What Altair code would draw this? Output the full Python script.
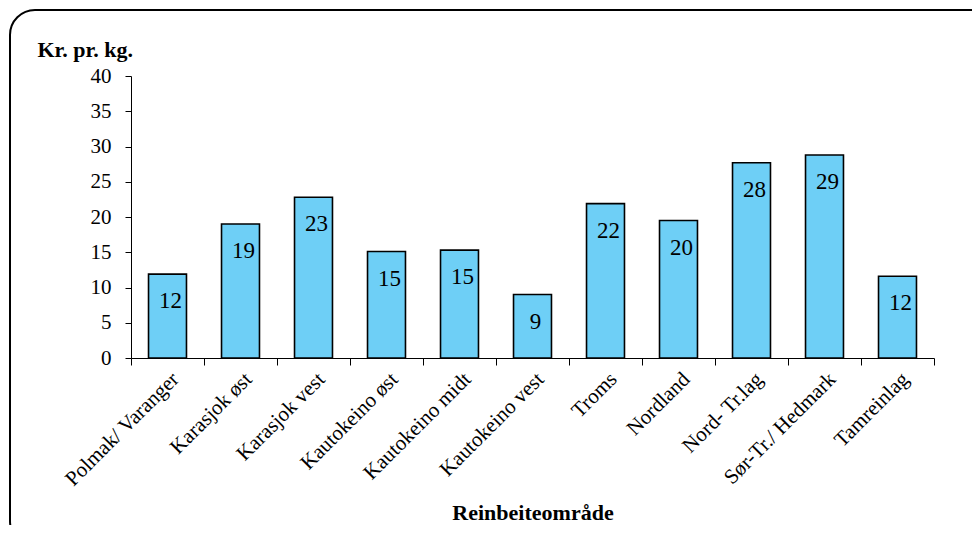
import altair as alt
import pandas as pd

categories = ["Polmak/ Varanger", "Karasjok øst", "Karasjok vest", "Kautokeino øst",
              "Kautokeino midt", "Kautokeino vest", "Troms", "Nordland",
              "Nord- Tr.lag", "Sør-Tr./ Hedmark", "Tamreinlag"]
values = [11.9, 19.0, 22.8, 15.1, 15.3, 9.0, 21.9, 19.5, 27.7, 28.8, 11.6]
labels = ["12", "19", "23", "15", "15", "9", "22", "20", "28", "29", "12"]
y_ticks = [0, 5, 10, 15, 20, 25, 30, 35, 40]

df = pd.DataFrame({"omr": categories, "val": values, "lab": labels})
FONT = "Liberation Serif"
TFONT = "'Liberation Serif', 'Times New Roman', serif"

x_enc = alt.X("omr:N", sort=None,
              scale=alt.Scale(paddingInner=0, paddingOuter=0),
              axis=alt.Axis(title="Reinbeiteområde", labelAngle=-45, labelFontSize=21,
                            labelFont=FONT, labelColor="black", tickBand="extent",
                            tickSize=7, tickColor="black", domainColor="black",
                            labelPadding=3, labelOverlap=False, titleFont=FONT,
                            titleFontSize=22, titleFontWeight="bold", titleColor="black",
                            titleY=161, titleBaseline="alphabetic"))
y_enc = alt.Y("val:Q", scale=alt.Scale(domain=[0, 40], nice=False, zero=True),
              axis=alt.Axis(values=y_ticks, tickCount=9, grid=False, labelFont=FONT,
                            labelFontSize=21, labelColor="black", tickSize=6,
                            tickColor="black", domainColor="black", labelPadding=14,
                            labelOverlap=False, labelFlush=False,
                            title="Kr. pr. kg.", titleFont=FONT, titleFontSize=22,
                            titleFontWeight="bold", titleColor="black", titleAngle=0,
                            titleAlign="left", titleBaseline="alphabetic",
                            titleX=-94, titleY=-20))

base = alt.Chart(df).encode(x=x_enc, y=y_enc)

bars = base.mark_bar(width=alt.RelativeBandSize(0.52), color="#6ECFF6",
                     stroke="black", strokeWidth=1.6)

text = base.mark_text(font=TFONT, fontSize=23, color="black",
                      baseline="alphabetic", dy=34, dx=3).encode(text="lab:N")

border = alt.Chart(pd.DataFrame({"a": [0]})).mark_rect(
    fill="transparent", stroke="black", strokeWidth=2, cornerRadius=25).encode(
    x=alt.value(-121), x2=alt.value(870), y=alt.value(-66), y2=alt.value(470))

chart = alt.layer(bars, text, border).properties(
    width=803, height=282, autosize="none",
    padding={"left": 123, "top": 68, "right": 38, "bottom": 167}
).configure_view(stroke=None).configure_text(font=TFONT)

chart.save("out.html", embed_options={"renderer": "svg", "actions": False})
